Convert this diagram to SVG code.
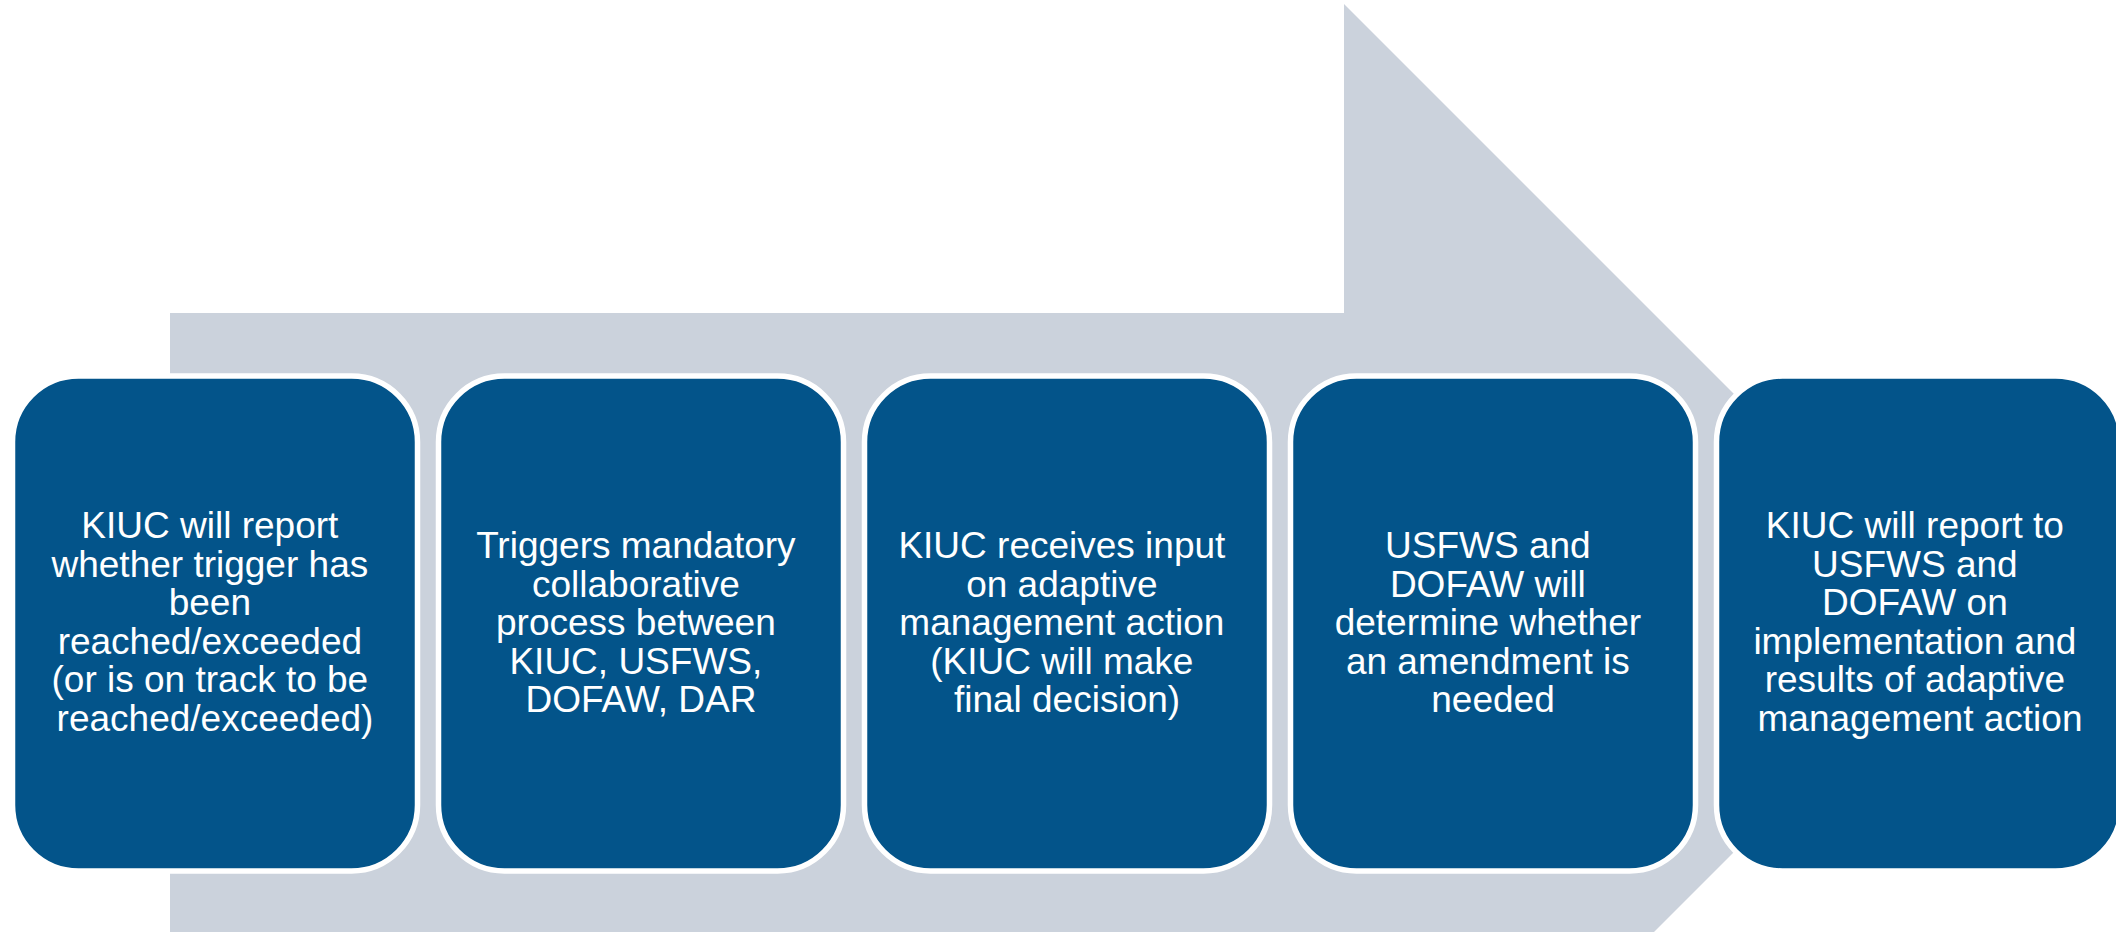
<svg xmlns="http://www.w3.org/2000/svg" width="2116" height="932" viewBox="0 0 2116 932">
  <style>
    .step rect { fill: #03548A; stroke: #FFFFFF; stroke-width: 5.5; }
    .step text { fill: #FFFFFF; font-family: "Liberation Sans", Arial, sans-serif; font-size: 37px; text-anchor: middle; }
  </style>
  <rect x="0" y="0" width="2116" height="932" fill="#FFFFFF"/>

  <!-- Background block arrow pointing right -->
  <g id="flow-arrow">
    <polygon points="170,313 1344,313 1344,4 1963,623 1344,1242 1344,933 170,933" fill="#CBD2DC"/>
  </g>

  <g id="connectors"></g>

  <g id="step1" class="step">
    <rect x="12.5" y="376" width="405" height="495" rx="66" ry="66"/>
    <text x="215">
      <tspan x="215" y="538">KIUC will report</tspan>
      <tspan x="215" y="576.5">whether trigger has</tspan>
      <tspan x="215" y="615">been</tspan>
      <tspan x="215" y="653.5">reached/exceeded</tspan>
      <tspan x="215" y="692">(or is on track to be</tspan>
      <tspan x="215" y="730.5">reached/exceeded)</tspan>
    </text>
  </g>

  <g id="step2" class="step">
    <rect x="438.5" y="376" width="405" height="495" rx="66" ry="66"/>
    <text x="641">
      <tspan x="641" y="558">Triggers mandatory</tspan>
      <tspan x="641" y="596.5">collaborative</tspan>
      <tspan x="641" y="635">process between</tspan>
      <tspan x="641" y="673.5">KIUC, USFWS,</tspan>
      <tspan x="641" y="712">DOFAW, DAR</tspan>
    </text>
  </g>

  <g id="step3" class="step">
    <rect x="864.5" y="376" width="405" height="495" rx="66" ry="66"/>
    <text x="1067">
      <tspan x="1067" y="558">KIUC receives input</tspan>
      <tspan x="1067" y="596.5">on adaptive</tspan>
      <tspan x="1067" y="635">management action</tspan>
      <tspan x="1067" y="673.5">(KIUC will make</tspan>
      <tspan x="1067" y="712">final decision)</tspan>
    </text>
  </g>

  <g id="step4" class="step">
    <rect x="1290.5" y="376" width="405" height="495" rx="66" ry="66"/>
    <text x="1493">
      <tspan x="1493" y="558">USFWS and</tspan>
      <tspan x="1493" y="596.5">DOFAW will</tspan>
      <tspan x="1493" y="635">determine whether</tspan>
      <tspan x="1493" y="673.5">an amendment is</tspan>
      <tspan x="1493" y="712">needed</tspan>
    </text>
  </g>

  <g id="step5" class="step">
    <rect x="1716.5" y="376" width="405" height="495" rx="66" ry="66"/>
    <text x="1920">
      <tspan x="1920" y="538">KIUC will report to</tspan>
      <tspan x="1920" y="576.5">USFWS and</tspan>
      <tspan x="1920" y="615">DOFAW on</tspan>
      <tspan x="1920" y="653.5">implementation and</tspan>
      <tspan x="1920" y="692">results of adaptive</tspan>
      <tspan x="1920" y="730.5">management action</tspan>
    </text>
  </g>
</svg>
